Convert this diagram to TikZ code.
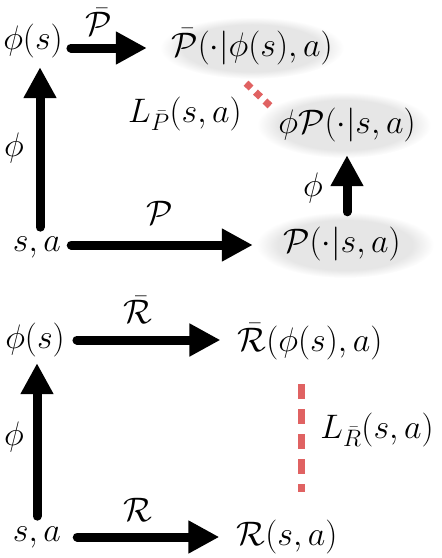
\documentclass[tikz,border=0pt]{standalone}
\usepackage{fix-cm}
\usetikzlibrary{arrows.meta,shapes.geometric,calc}
\definecolor{ellgray}{RGB}{230,230,230}
\definecolor{lossred}{RGB}{224,98,98}
\pgfdeclareradialshading{softgray}{\pgfpoint{0bp}{0bp}}{color(0bp)=(ellgray); color(19bp)=(ellgray); color(25bp)=(white); color(50bp)=(white)}
\tikzset{
  txt/.style={inner sep=0pt, font=\fontsize{34}{40}\selectfont},
  ellbg/.style={ellipse, inner sep=0pt, shading=softgray},
  arr/.style={line width=9pt, line cap=round, -{Triangle[length=31pt,width=31pt]}},
  loss/.style={line width=7pt, draw=lossred},
}
\begin{document}
\begin{tikzpicture}[x=1pt,y=-1pt]
\useasboundingbox (0,0) rectangle (442,558);
% upper diagram: shaded ellipses
\node[ellbg, minimum width=184pt, minimum height=62pt] (pbarE) at (252,48) {};
\node[ellbg, minimum width=174pt, minimum height=66pt] (phipE) at (344,125) {};
\node[ellbg, minimum width=178pt, minimum height=66pt] (pE) at (345,245) {};
% texts
\node[txt] (phis1) at (33,41) {$\phi(s)$};
\node[txt] (pbar) at (252,47) {$\bar{\mathcal{P}}(\cdot|\phi(s),a)$};
\node[txt] (lp) at (185,114) {$L_{\bar{P}}(s,a)$};
\node[txt] (phip) at (347,125) {$\phi\mathcal{P}(\cdot|s,a)$};
\node[txt] (p) at (342,244) {$\mathcal{P}(\cdot|s,a)$};
\node[txt] (sa1) at (37,247) {$s,a$};
\node[txt] (lpbar) at (99,22) {$\bar{\mathcal{P}}$};
\node[txt] (lphi1) at (14,148) {$\phi$};
\node[txt] (lpp) at (160,213) {$\mathcal{P}$};
\node[txt] (lphi2) at (313,188) {$\phi$};
\draw[arr] ([xshift=8pt,yshift=-7pt]phis1.east) -- ([xshift=-13pt]pbarE.west);
\draw[arr] ([xshift=3pt,yshift=9pt]sa1.north) -- ([xshift=7pt,yshift=-9pt]phis1.south);
\draw[arr] ([xshift=10pt,yshift=2pt]sa1.east) -- ([xshift=-3pt]pE.west);
\draw[arr] ([xshift=2pt]pE.north) -- ([xshift=3pt,yshift=3pt]phipE.south);
\draw[loss, dash pattern=on 7pt off 6pt] ([xshift=-6pt,yshift=-4pt]pbarE.south) -- ([xshift=-74pt,yshift=-14pt]phipE.north);
% lower diagram
\node[txt] (phis2) at (35,340) {$\phi(s)$};
\node[txt] (rbar) at (310,342) {$\bar{\mathcal{R}}(\phi(s),a)$};
\node[txt] (lr) at (377,430) {$L_{\bar{R}}(s,a)$};
\node[txt] (sa2) at (37,537) {$s,a$};
\node[txt] (r) at (287,537) {$\mathcal{R}(s,a)$};
\node[txt] (lrbar) at (138,310) {$\bar{\mathcal{R}}$};
\node[txt] (lphi3) at (14,437) {$\phi$};
\node[txt] (lrr) at (138,510) {$\mathcal{R}$};
\draw[arr] ([xshift=12pt]phis2.east) -- ([xshift=-17pt,yshift=2pt]rbar.west);
\draw[arr] ([yshift=10pt]sa2.north) -- ([xshift=2pt,yshift=-6pt]phis2.south);
\draw[arr] ([xshift=16pt]sa2.east) -- ([xshift=-17pt]r.west);
\draw[loss, dash pattern=on 15pt off 10pt] ([xshift=-9pt,yshift=-24pt]rbar.south) -- ([xshift=14pt,yshift=28pt]r.north);
\end{tikzpicture}
\end{document}
